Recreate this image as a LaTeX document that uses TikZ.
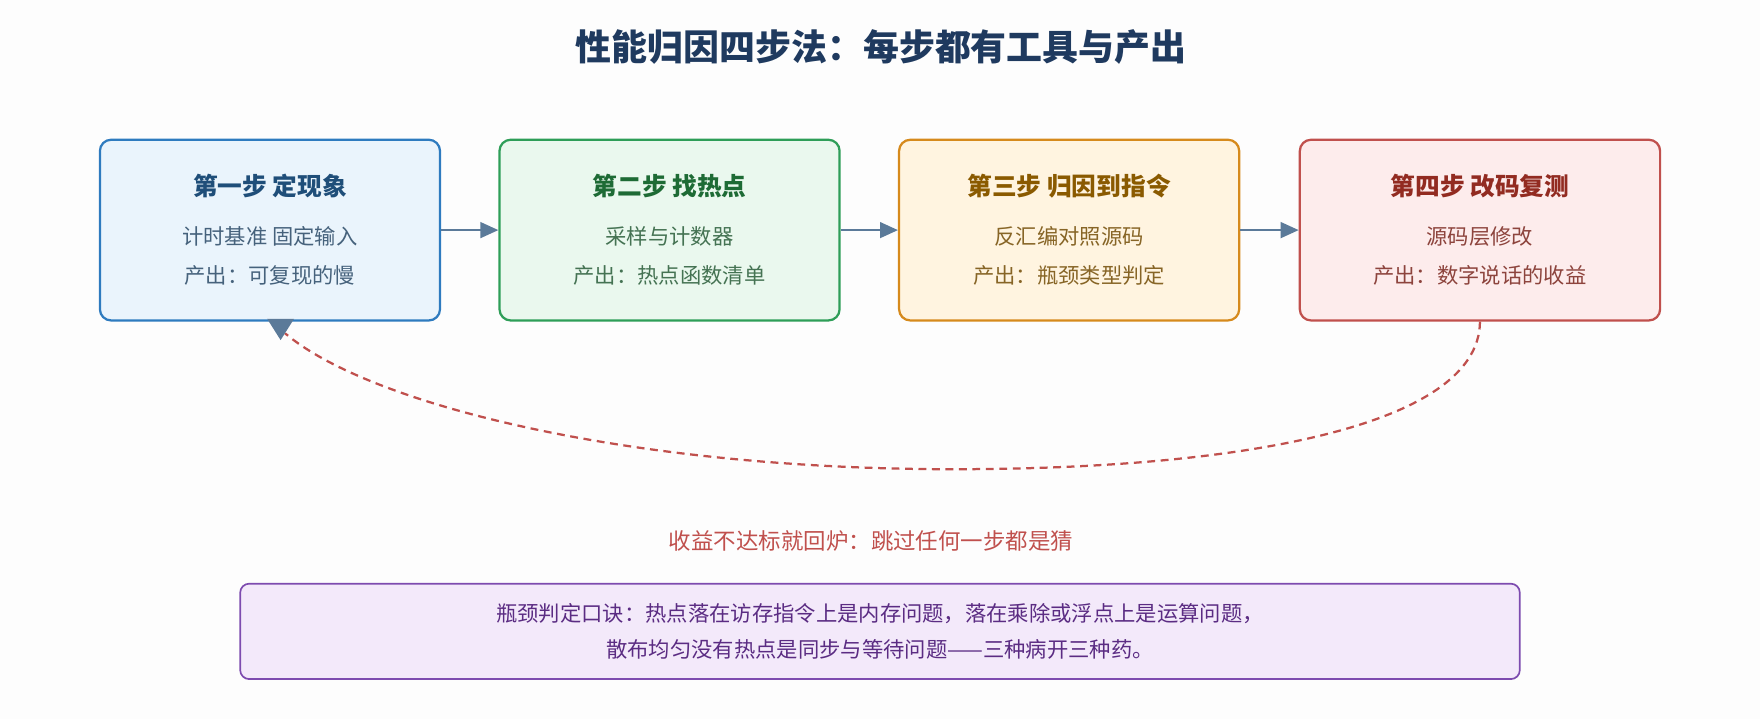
\documentclass[tikz,border=0pt]{standalone}
\usepackage{fontspec}
\setmainfont{Noto Sans CJK SC}
\usetikzlibrary{arrows.meta}
\definecolor{bg}{HTML}{FDFDFD}
\definecolor{arr}{HTML}{5B7A99}
\definecolor{ttl}{HTML}{1F3A5F}
\begin{document}
\begin{tikzpicture}[x=1pt,y=1pt,
  box/.style={draw=#1, line width=2pt, rounded corners=10pt, minimum width=303pt, minimum height=161pt, inner sep=0pt},
  head/.style={font=\fontsize{22}{26}\selectfont\bfseries},
  body/.style={font=\fontsize{19}{34}\selectfont, align=center},
  flow/.style={draw=arr, line width=2pt, -{Triangle[length=16pt,width=14pt]}}]
\fill[bg] (0,0) rectangle (1568,641);
\useasboundingbox (0,0) rectangle (1568,641);
\node[font=\fontsize{32}{36}\selectfont\bfseries, text=ttl] (title) at (785,599) {性能归因四步法：每步都有工具与产出};
\definecolor{c1}{HTML}{2E7BBF}\definecolor{f1}{HTML}{EAF4FC}\definecolor{t1}{HTML}{1F4E79}
\definecolor{c2}{HTML}{2E9E58}\definecolor{f2}{HTML}{EAF8EE}\definecolor{t2}{HTML}{1E6B35}
\definecolor{c3}{HTML}{D68A1C}\definecolor{f3}{HTML}{FFF4E0}\definecolor{t3}{HTML}{8A5A00}
\definecolor{c4}{HTML}{C0504D}\definecolor{f4}{HTML}{FDECEC}\definecolor{t4}{HTML}{922B21}
\node[box=c1, fill=f1] (b1) at (240.5,436) {};
\node[box=c2, fill=f2] (b2) at (596.5,436) {};
\node[box=c3, fill=f3] (b3) at (952.5,436) {};
\node[box=c4, fill=f4, minimum width=321pt] (b4) at (1318.5,436) {};
\node[head, text=t1] (h1) at (240.5,475) {第一步 定现象};
\node[body, text=t1!60!gray] (s1) at (240.5,413) {计时基准 固定输入\\产出：可复现的慢};
\node[head, text=t2] (h2) at (596.5,475) {第二步 找热点};
\node[body, text=t2!60!gray] (s2) at (596.5,413) {采样与计数器\\产出：热点函数清单};
\node[head, text=t3] (h3) at (952.5,475) {第三步 归因到指令};
\node[body, text=t3!70!gray] (s3) at (952.5,413) {反汇编对照源码\\产出：瓶颈类型判定};
\node[head, text=t4] (h4) at (1318.5,475) {第四步 改码复测};
\node[body, text=t4!70!gray] (s4) at (1318.5,413) {源码层修改\\产出：数字说话的收益};
\draw[flow] (b1) -- (b2);
\draw[flow] (b2) -- (b3);
\draw[flow] (b3) -- (b4);
\coordinate (tip) at (250,338);
\draw[c4, line width=2pt, dash pattern=on 7pt off 5pt] (b4.south) .. controls (1318,260) and (1100,222) .. (840,223) .. controls (560,224) and (330,280) .. (254,344);
\fill[arr] (tip) -- ++(-12,19) -- ++(24,0) -- cycle;
\node[font=\fontsize{20}{24}\selectfont, text=c4] (note) at (776,159) {收益不达标就回炉：跳过任何一步都是猜};
\definecolor{cp}{HTML}{7D4BAF}\definecolor{fp}{HTML}{F3E9FA}\definecolor{tp}{HTML}{5B2C83}
\node[draw=cp, line width=1.5pt, fill=fp, rounded corners=8pt, minimum width=1140pt, minimum height=85pt, text=tp, align=center, font=\fontsize{19}{32}\selectfont] (tip2) at (784,78.5) {瓶颈判定口诀：热点落在访存指令上是内存问题，落在乘除或浮点上是运算问题，\\散布均匀没有热点是同步与等待问题——三种病开三种药。};
\end{tikzpicture}
\end{document}
